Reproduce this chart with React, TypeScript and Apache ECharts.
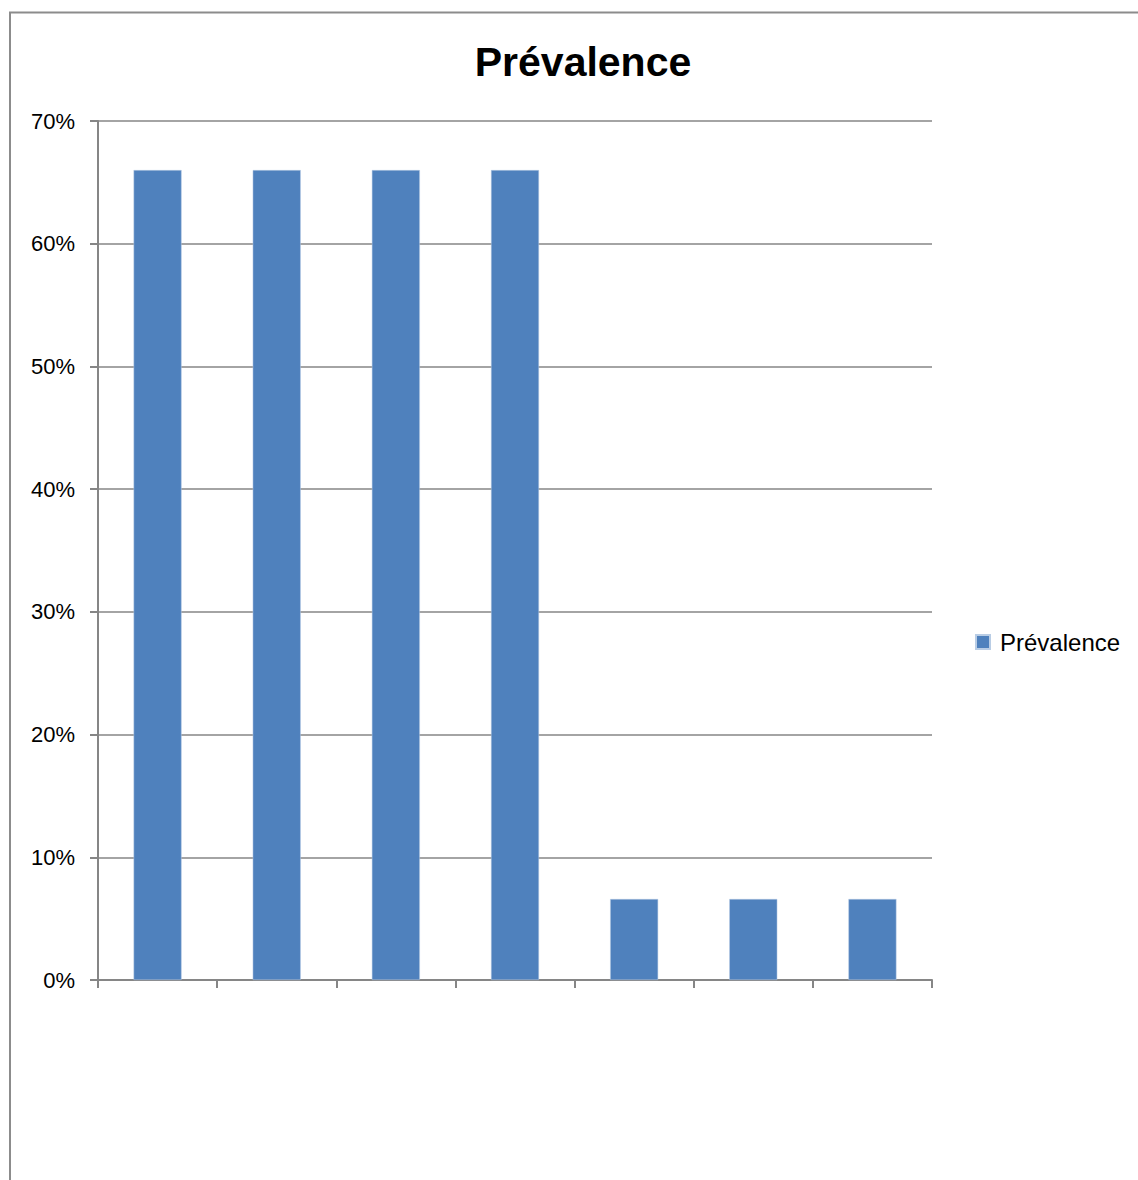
import React, { useEffect, useRef } from "react";
import * as echarts from "echarts";

const categories = ["1", "2", "3", "4", "5", "6", "7"];
const prevalence = [0.66, 0.66, 0.66, 0.66, 0.066, 0.066, 0.066];
const seriesName = "Prévalence";
const titleText = "Prévalence";

export default function App() {
  const ref = useRef<HTMLDivElement>(null);
  useEffect(() => {
    if (!ref.current) return;
    const chart = echarts.init(ref.current, undefined, { renderer: "svg" });
    const axisGray = "#868686";
    chart.setOption({
      animation: false,
      backgroundColor: "#ffffff",
      graphic: [
        {
          type: "rect",
          shape: { x: 10, y: 12.5, width: 1400, height: 1400 },
          style: { fill: "none", stroke: "#8c8c8c", lineWidth: 2 },
          silent: true,
        },
        {
          type: "text",
          x: 583,
          y: 62,
          style: {
            text: titleText,
            font: "bold 41px 'Liberation Sans', Arial, sans-serif",
            fill: "#000",
            align: "center",
            verticalAlign: "middle",
          },
        },
      ],
      legend: {
        data: [seriesName],
        orient: "vertical",
        left: 975,
        top: 630,
        padding: 0,
        icon: "rect",
        itemWidth: 14,
        itemHeight: 14,
        itemGap: 8,
        textStyle: {
          fontFamily: "'Liberation Sans', Arial, sans-serif",
          fontSize: 24,
          color: "#000",
          padding: [0, 0, 0, 5],
        },
      },
      grid: { left: 98, right: 206, top: 121, bottom: 200, containLabel: false },
      xAxis: {
        type: "category",
        data: categories,
        boundaryGap: true,
        axisLine: { show: true, lineStyle: { color: axisGray, width: 2 } },
        axisTick: { show: true, length: 8, inside: false, lineStyle: { color: axisGray, width: 2 } },
        axisLabel: { show: false },
        splitLine: { show: false },
      },
      yAxis: {
        type: "value",
        min: 0,
        max: 0.7,
        interval: 0.1,
        axisLine: { show: true, lineStyle: { color: axisGray, width: 2 } },
        axisTick: { show: true, length: 8, lineStyle: { color: axisGray, width: 2 } },
        axisLabel: {
          margin: 23,
          color: "#000",
          fontSize: 22,
          fontFamily: "'Liberation Sans', Arial, sans-serif",
          formatter: (v: number) => `${Math.round(v * 100)}%`,
        },
        splitLine: { show: true, lineStyle: { color: axisGray, width: 1.5 } },
      },
      series: [
        {
          name: seriesName,
          type: "bar",
          data: prevalence,
          barWidth: 48,
          itemStyle: { color: "#4F81BD", borderColor: "#b9cde5", borderWidth: 0.5 },
        },
      ],
    });
    return () => chart.dispose();
  }, []);
  return (
    <div
      ref={ref}
      style={{ position: "absolute", left: 0, top: 0, width: 1138, height: 1180 }}
    />
  );
}
